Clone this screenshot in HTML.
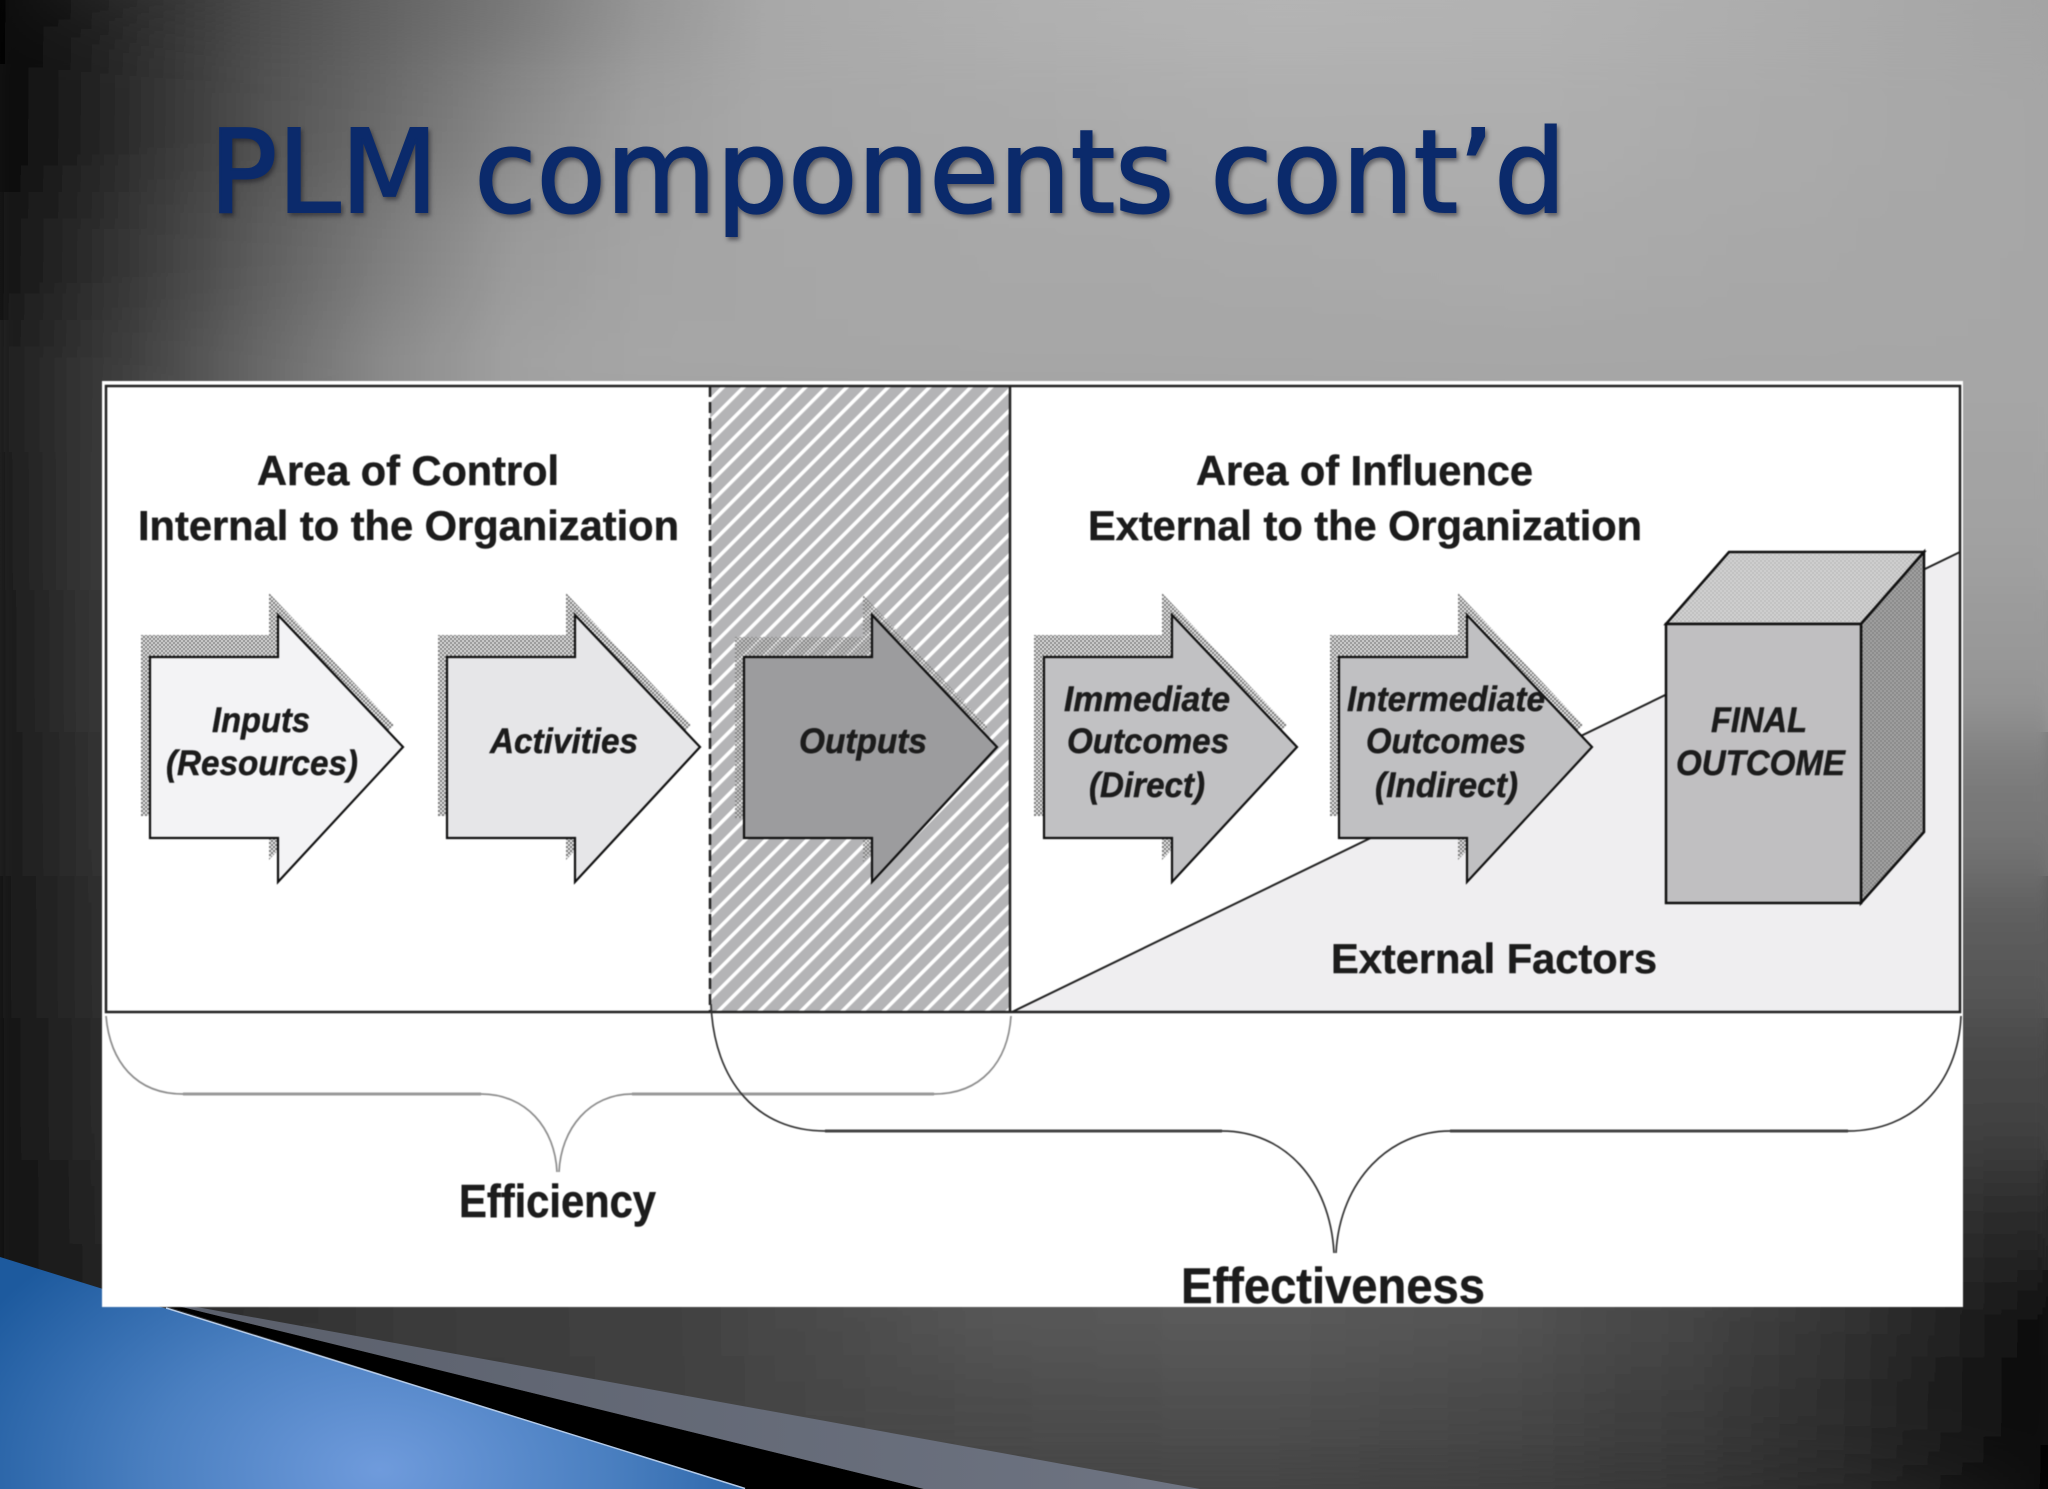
<!DOCTYPE html>
<html><head><meta charset="utf-8"><title>PLM components cont'd</title>
<style>
html,body{margin:0;padding:0;background:#111;width:2048px;height:1489px;overflow:hidden;}
svg{display:block;}
text{font-family:"Liberation Sans",sans-serif;fill:#1c1c1c;stroke:#1c1c1c;stroke-width:.5;}
.h{font-weight:bold;font-size:42px;}
.a{font-weight:bold;font-style:italic;font-size:35px;}
</style></head><body>
<svg xmlns="http://www.w3.org/2000/svg" width="2048" height="1489" viewBox="0 0 2048 1489">
<defs>
<linearGradient id="r0"><stop offset="0" stop-color="#050505"/><stop offset=".0625" stop-color="#2a2a2a"/><stop offset=".125" stop-color="#4c4c4c"/><stop offset=".1875" stop-color="#626262"/><stop offset=".25" stop-color="#787878"/><stop offset=".3125" stop-color="#959595"/><stop offset=".375" stop-color="#a8a8a8"/><stop offset=".5" stop-color="#b0b0b0"/><stop offset=".625" stop-color="#b4b4b4"/><stop offset=".75" stop-color="#b2b2b2"/><stop offset=".875" stop-color="#acacac"/><stop offset="1" stop-color="#a4a4a4"/></linearGradient>
<linearGradient id="r1"><stop offset="0" stop-color="#0a0a0a"/><stop offset=".0625" stop-color="#2c2c2c"/><stop offset=".125" stop-color="#505050"/><stop offset=".1875" stop-color="#6c6c6c"/><stop offset=".25" stop-color="#8a8a8a"/><stop offset=".3125" stop-color="#a0a0a0"/><stop offset=".375" stop-color="#a8a8a8"/><stop offset=".5" stop-color="#aaaaaa"/><stop offset=".625" stop-color="#aeaeae"/><stop offset=".75" stop-color="#aeaeae"/><stop offset=".875" stop-color="#aaaaaa"/><stop offset="1" stop-color="#a6a6a6"/></linearGradient>
<linearGradient id="r2"><stop offset="0" stop-color="#141414"/><stop offset=".0625" stop-color="#363636"/><stop offset=".125" stop-color="#5c5c5c"/><stop offset=".1875" stop-color="#7e7e7e"/><stop offset=".25" stop-color="#9a9a9a"/><stop offset=".3125" stop-color="#a4a4a4"/><stop offset=".375" stop-color="#a6a6a6"/><stop offset=".5" stop-color="#a8a8a8"/><stop offset=".75" stop-color="#aaaaaa"/><stop offset="1" stop-color="#a6a6a6"/></linearGradient>
<linearGradient id="r3"><stop offset="0" stop-color="#1e1e1e"/><stop offset=".0625" stop-color="#404040"/><stop offset=".125" stop-color="#686868"/><stop offset=".1875" stop-color="#8c8c8c"/><stop offset=".25" stop-color="#a2a2a2"/><stop offset=".3125" stop-color="#a6a6a6"/><stop offset="1" stop-color="#a6a6a6"/></linearGradient>
<linearGradient id="m1"><stop offset="0" stop-color="#1c1c1c"/><stop offset=".05" stop-color="#3a3a3a"/><stop offset=".95" stop-color="#a2a2a2"/></linearGradient>
<linearGradient id="m2"><stop offset="0" stop-color="#1b1b1b"/><stop offset=".05" stop-color="#373737"/><stop offset=".95" stop-color="#989898"/></linearGradient>
<linearGradient id="m3"><stop offset="0" stop-color="#1a1a1a"/><stop offset=".05" stop-color="#333333"/><stop offset=".95" stop-color="#787878"/></linearGradient>
<linearGradient id="m4"><stop offset="0" stop-color="#171717"/><stop offset=".05" stop-color="#2f2f2f"/><stop offset=".95" stop-color="#5a5a5a"/></linearGradient>
<linearGradient id="m5"><stop offset="0" stop-color="#151515"/><stop offset=".05" stop-color="#2b2b2b"/><stop offset=".95" stop-color="#444444"/></linearGradient>
<linearGradient id="b0"><stop offset="0" stop-color="#121212"/><stop offset=".05" stop-color="#262626"/><stop offset=".195" stop-color="#3a3a3a"/><stop offset=".342" stop-color="#444444"/><stop offset=".488" stop-color="#585858"/><stop offset=".615" stop-color="#5c5c5c"/><stop offset=".732" stop-color="#555555"/><stop offset=".83" stop-color="#454545"/><stop offset=".903" stop-color="#383838"/><stop offset=".958" stop-color="#2e2e2e"/><stop offset="1" stop-color="#282828"/></linearGradient>
<linearGradient id="b1"><stop offset="0" stop-color="#0e0e0e"/><stop offset=".098" stop-color="#2a2a2a"/><stop offset=".195" stop-color="#3a3a3a"/><stop offset=".342" stop-color="#424242"/><stop offset=".488" stop-color="#585858"/><stop offset=".615" stop-color="#5c5c5c"/><stop offset=".732" stop-color="#555555"/><stop offset=".83" stop-color="#454545"/><stop offset=".903" stop-color="#333333"/><stop offset=".952" stop-color="#222222"/><stop offset="1" stop-color="#0a0a0a"/></linearGradient>
<linearGradient id="b2"><stop offset=".195" stop-color="#383838"/><stop offset=".342" stop-color="#424242"/><stop offset=".488" stop-color="#4c4c4c"/><stop offset=".615" stop-color="#505050"/><stop offset=".732" stop-color="#494949"/><stop offset=".83" stop-color="#3c3c3c"/><stop offset=".903" stop-color="#2c2c2c"/><stop offset=".952" stop-color="#1c1c1c"/><stop offset="1" stop-color="#080808"/></linearGradient>
<linearGradient id="b3"><stop offset=".488" stop-color="#444444"/><stop offset=".615" stop-color="#444444"/><stop offset=".732" stop-color="#3e3e3e"/><stop offset=".83" stop-color="#353535"/><stop offset=".903" stop-color="#282828"/><stop offset=".952" stop-color="#181818"/><stop offset="1" stop-color="#050505"/></linearGradient>
<filter id="yb" filterUnits="userSpaceOnUse" x="0" y="0" width="2048" height="1489"><feGaussianBlur stdDeviation="6 40"/></filter>
<g id="rows">
<rect x="0" y="0" width="2048" height="64" fill="url(#r0)"/>
<rect x="0" y="64" width="2048" height="128" fill="url(#r1)"/>
<rect x="0" y="192" width="2048" height="128" fill="url(#r2)"/>
<rect x="0" y="320" width="2048" height="132" fill="url(#r3)"/>
<rect x="0" y="452" width="2048" height="138" fill="url(#m1)"/>
<rect x="0" y="590" width="2048" height="142" fill="url(#m2)"/>
<rect x="0" y="732" width="2048" height="144" fill="url(#m3)"/>
<rect x="0" y="876" width="2048" height="142" fill="url(#m4)"/>
<rect x="0" y="1018" width="2048" height="142" fill="url(#m5)"/>
<rect x="0" y="1160" width="2048" height="110" fill="url(#b0)"/>
<rect x="0" y="1270" width="2048" height="85" fill="url(#b1)"/>
<rect x="0" y="1355" width="2048" height="90" fill="url(#b2)"/>
<rect x="0" y="1445" width="2048" height="44" fill="url(#b3)"/>
</g>
<radialGradient id="blue" gradientUnits="userSpaceOnUse" cx="0" cy="0" r="1" gradientTransform="translate(380 1470) scale(460 300)">
<stop offset="0" stop-color="#6f9bdc"/><stop offset=".5" stop-color="#4a7fc0"/><stop offset="1" stop-color="#1d5a9e"/>
</radialGradient>
<linearGradient id="grayband" x1="0" y1="0" x2="1" y2="0"><stop offset="0" stop-color="#5a5f6b"/><stop offset="1" stop-color="#6e7482"/></linearGradient>
<pattern id="hatch" width="14.6" height="14.6" patternUnits="userSpaceOnUse" patternTransform="rotate(-45 710 386)">
<rect width="14.6" height="14.6" fill="#b4b4b6"/><rect y="0" width="14.6" height="3.6" fill="#fff"/>
</pattern>
<pattern id="st" width="4" height="4" patternUnits="userSpaceOnUse">
<rect width="2" height="2" fill="#777"/><rect x="2" y="2" width="2" height="2" fill="#777"/><rect x="2" width="2" height="2" fill="#e0e0e0" fill-opacity=".6"/><rect y="2" width="2" height="2" fill="#e0e0e0" fill-opacity=".6"/>
</pattern>
<pattern id="stL" width="4" height="4" patternUnits="userSpaceOnUse">
<rect width="4" height="4" fill="#d8d8d8"/><rect width="2" height="2" fill="#b8b8b8"/><rect x="2" y="2" width="2" height="2" fill="#b8b8b8"/>
</pattern>
<pattern id="stD" width="4" height="4" patternUnits="userSpaceOnUse">
<rect width="4" height="4" fill="#aaaaaa"/><rect width="2" height="2" fill="#808080"/><rect x="2" y="2" width="2" height="2" fill="#808080"/>
</pattern>
<polygon id="ar" points="0,657 128,657 128,615 253,747 128,882 128,838 0,838"/>
</defs>

<!-- background -->
<use href="#rows"/>
<use href="#rows" filter="url(#yb)"/>

<!-- bottom decoration -->
<polygon points="0,1257 746,1489 0,1489" fill="url(#blue)"/>
<polygon points="166,1306 178,1306 924,1489 746,1489" fill="#000"/>
<polygon points="178,1306 191,1306 1200,1489 924,1489" fill="url(#grayband)"/>
<line x1="166" y1="1308" x2="745" y2="1488.5" stroke="#b5cbe8" stroke-width="1.5"/>

<!-- title -->
<g style="filter:drop-shadow(2px 3px 2px rgba(20,20,30,.5))">
<text x="209" y="212" font-size="115" textLength="1357" lengthAdjust="spacingAndGlyphs" style="font-family:'DejaVu Sans',sans-serif;fill:#0b2a6b;stroke:#0b2a6b;stroke-width:2">PLM components cont’d</text>
</g>

<g style="filter:blur(.5px)">
<!-- panel -->
<rect x="102" y="381" width="1861" height="926" fill="#fff"/>
<rect x="710" y="386" width="300" height="626" fill="url(#hatch)"/>
<polygon points="1012,1012 1960,552 1960,1012" fill="#efeef0"/>
<line x1="1012" y1="1012" x2="1960" y2="552" stroke="#222" stroke-width="2"/>
<rect x="106" y="386" width="1854" height="626" fill="none" stroke="#222" stroke-width="2.5"/>
<line x1="710" y1="386" x2="710" y2="1012" stroke="#222" stroke-width="2.5" stroke-dasharray="11 5"/>
<line x1="1010" y1="386" x2="1010" y2="1012" stroke="#222" stroke-width="2.5"/>

<!-- headings -->
<text class="h" x="257" y="485" textLength="302" lengthAdjust="spacingAndGlyphs">Area of Control</text>
<text class="h" x="138" y="540" textLength="541" lengthAdjust="spacingAndGlyphs">Internal to the Organization</text>
<text class="h" x="1196" y="485" textLength="337" lengthAdjust="spacingAndGlyphs">Area of Influence</text>
<text class="h" x="1088" y="540" textLength="554" lengthAdjust="spacingAndGlyphs">External to the Organization</text>
<text class="h" x="1331" y="973" textLength="326" lengthAdjust="spacingAndGlyphs">External Factors</text>

<!-- arrow shadows -->
<use href="#ar" transform="translate(141,-22)" fill="url(#st)"/>
<use href="#ar" transform="translate(438,-22)" fill="url(#st)"/>
<use href="#ar" transform="translate(735,-20)" fill="url(#st)" fill-opacity=".85"/>
<use href="#ar" transform="translate(1034,-22)" fill="url(#st)"/>
<use href="#ar" transform="translate(1330,-22)" fill="url(#st)"/>

<!-- arrows -->
<g stroke="#111" stroke-width="2.2" stroke-linejoin="miter">
<use href="#ar" transform="translate(150,0)" fill="#f3f3f5"/>
<use href="#ar" transform="translate(447,0)" fill="#e6e6e8"/>
<use href="#ar" transform="translate(744,0)" fill="#9c9c9e"/>
<use href="#ar" transform="translate(1044,0)" fill="#c1c1c3"/>
<use href="#ar" transform="translate(1339,0)" fill="#c0c0c2"/>
</g>

<!-- arrow labels -->
<text class="a" x="212" y="732" textLength="98" lengthAdjust="spacingAndGlyphs">Inputs</text>
<text class="a" x="166" y="775" textLength="192" lengthAdjust="spacingAndGlyphs">(Resources)</text>
<text class="a" x="490" y="753" textLength="148" lengthAdjust="spacingAndGlyphs">Activities</text>
<text class="a" x="799" y="753" textLength="128" lengthAdjust="spacingAndGlyphs">Outputs</text>
<text class="a" x="1064" y="711" textLength="166" lengthAdjust="spacingAndGlyphs">Immediate</text>
<text class="a" x="1067" y="753" textLength="162" lengthAdjust="spacingAndGlyphs">Outcomes</text>
<text class="a" x="1089" y="797" textLength="116" lengthAdjust="spacingAndGlyphs">(Direct)</text>
<text class="a" x="1347" y="711" textLength="198" lengthAdjust="spacingAndGlyphs">Intermediate</text>
<text class="a" x="1366" y="753" textLength="160" lengthAdjust="spacingAndGlyphs">Outcomes</text>
<text class="a" x="1375" y="797" textLength="143" lengthAdjust="spacingAndGlyphs">(Indirect)</text>

<!-- box -->
<g stroke="#111" stroke-width="2.5" stroke-linejoin="miter">
<polygon points="1666,624 1729,552 1924,552 1861,624" fill="url(#stL)"/>
<polygon points="1861,624 1924,552 1924,832 1861,903" fill="url(#stD)"/>
<rect x="1666" y="624" width="195" height="279" fill="#c0bfc1"/>
</g>
<text class="a" x="1711" y="732" textLength="96" lengthAdjust="spacingAndGlyphs">FINAL</text>
<text class="a" x="1676" y="775" textLength="169" lengthAdjust="spacingAndGlyphs">OUTCOME</text>

<!-- braces -->
<g fill="none">
<path d="M106 1016C110 1062 136 1094 183 1094L481 1094C526 1094 555 1128 557 1172M632 1094C590 1094 561 1128 559 1172M632 1094L934 1094C981 1094 1008 1062 1011 1016" stroke="#8c8c8c" stroke-width="1.7"/>
<path d="M183 1094H481M632 1094H934" stroke="#999" stroke-width="3"/>
<path d="M711 1004C714 1082 758 1131 825 1131L1222 1131C1284 1131 1330 1180 1334 1253M1450 1131C1390 1131 1340 1180 1336 1253M1450 1131L1848 1131C1912 1131 1958 1085 1961 1016" stroke="#333" stroke-width="1.7"/>
<path d="M825 1131H1222M1450 1131H1848" stroke="#444" stroke-width="3"/>
</g>
<text x="459" y="1217" font-size="46" font-weight="bold" textLength="197" lengthAdjust="spacingAndGlyphs">Efficiency</text>
<text x="1181" y="1303" font-size="50" font-weight="bold" textLength="304" lengthAdjust="spacingAndGlyphs">Effectiveness</text>
</g>
</svg>
</body></html>
